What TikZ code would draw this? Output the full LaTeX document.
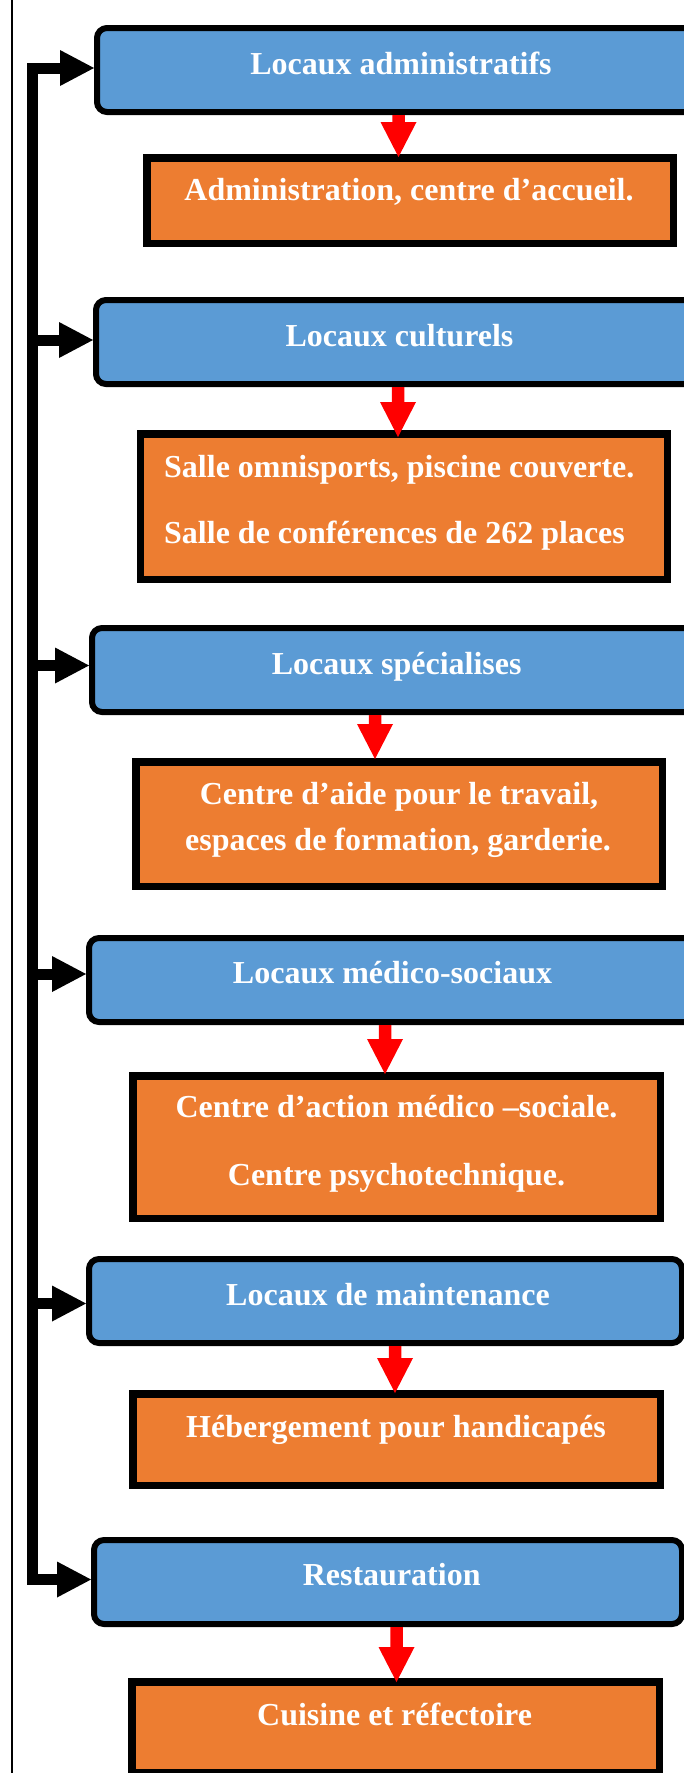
\documentclass[tikz,border=0pt]{standalone}
\usepackage{fontspec}
\setmainfont{Liberation Serif}
\usetikzlibrary{calc}
\definecolor{boxblue}{HTML}{5B9BD5}
\definecolor{boxorange}{HTML}{ED7D31}
\definecolor{arrred}{HTML}{FF0000}
\tikzset{
  bluebox/.style={draw=black, line width=6pt, fill=boxblue, rounded corners=10pt,
    inner sep=0pt, outer sep=3pt, minimum height=84pt},
  orangebox/.style={draw=black, line width=7.5pt, fill=boxorange, inner sep=0pt, outer sep=3.75pt},
  boxtext/.style={text=white, font=\bfseries\fontsize{32}{38}\selectfont, inner sep=0pt, anchor=base},
  boxtextleft/.style={boxtext, anchor=base west},
  spine/.style={draw=black, line width=11pt, line join=miter},
  framerule/.style={draw=black, line width=1.5pt},
}
\newcommand{\blackhead}[2]{%
  \fill[black] ($(#1.west |- #2)+(-34,-18)$) -- (#1.west |- #2) -- ($(#1.west |- #2)+(-34,18)$) -- cycle;}
\newcommand{\redarr}[4]{%
  \path (#3,0) coordinate (rx-#1);
  \path (#1.south -| rx-#1) coordinate (ra-#1);
  \path ($(#2.north -| rx-#1)+(0,#4)$) coordinate (tip-#1);
  \path ($(tip-#1)+(0,-35)$) coordinate (base-#1);
  \fill[arrred] ($(ra-#1)+(-6.25,0)$) -- ($(base-#1)+(-6.25,0)$) -- ($(base-#1)+(-18,0)$)
    -- (tip-#1) -- ($(base-#1)+(18,0)$) -- ($(base-#1)+(6.25,0)$) -- ($(ra-#1)+(6.25,0)$) -- cycle;}
\begin{document}
\begin{tikzpicture}[x=1pt, y=-1pt]
\useasboundingbox (0,0) rectangle (684,1773);
\clip (0,0) rectangle (684,1773);

% left page rule
\coordinate (frameTop) at (12,0);
\coordinate (frameBot) at (12,1773);
\draw[framerule] (frameTop) -- (frameBot);

% blue boxes
\node[bluebox, minimum width=608pt] (b1) at (401,70) {};
\node[bluebox, minimum width=608pt] (b2) at (400,342) {};
\node[bluebox, minimum width=609pt] (b3) at (396.5,670) {};
\node[bluebox, minimum width=608pt] (b4) at (393,980) {};
\node[bluebox, minimum width=593pt] (b5) at (385.5,1301) {};
\node[bluebox, minimum width=588pt] (b6) at (388,1582) {};

% orange boxes
\node[orangebox, minimum width=526.5pt, minimum height=85.5pt] (o1) at (410,200.5) {};
\node[orangebox, minimum width=527pt, minimum height=145.5pt] (o2) at (403.75,506.5) {};
\node[orangebox, minimum width=526.5pt, minimum height=124.5pt] (o3) at (399,824) {};
\node[orangebox, minimum width=527.5pt, minimum height=142.5pt] (o4) at (396.5,1147) {};
\node[orangebox, minimum width=527.5pt, minimum height=91.5pt] (o5) at (396.5,1439.5) {};
\node[orangebox, minimum width=527.5pt, minimum height=90.5pt] (o6) at (395.5,1727) {};

% black spine with arms
\coordinate (a1) at (32.5,68);
\coordinate (a2) at (32.5,340);
\coordinate (a3) at (32.5,665.5);
\coordinate (a4) at (32.5,974);
\coordinate (a5) at (32.5,1303.5);
\coordinate (a6) at (32.5,1579.5);
\draw[spine] ($(b1.west |- a1)+(-33,0)$) -- (a1) -- (a6) -- ($(b6.west |- a6)+(-33,0)$);
\draw[spine] (a2) -- ($(b2.west |- a2)+(-33,0)$);
\draw[spine] (a3) -- ($(b3.west |- a3)+(-33,0)$);
\draw[spine] (a4) -- ($(b4.west |- a4)+(-33,0)$);
\draw[spine] (a5) -- ($(b5.west |- a5)+(-33,0)$);
\blackhead{b1}{a1}
\blackhead{b2}{a2}
\blackhead{b3}{a3}
\blackhead{b4}{a4}
\blackhead{b5}{a5}
\blackhead{b6}{a6}

% red arrows
\redarr{b1}{o1}{398.5}{3}
\redarr{b2}{o2}{398}{7}
\redarr{b3}{o3}{375}{1}
\redarr{b4}{o4}{385}{2}
\redarr{b5}{o5}{395}{3}
\redarr{b6}{o6}{396.5}{4}

% texts
\node[boxtext] (t1) at (401,74) {Locaux administratifs};
\node[boxtext] (u1) at (409,200) {Administration, centre d’accueil.};
\node[boxtext] (t2) at (399.5,346) {Locaux culturels};
\node[boxtextleft] (u2a) at (164,477) {Salle omnisports, piscine couverte.};
\node[boxtextleft] (u2b) at (164,543.5) {Salle de conférences de 262 places};
\node[boxtext] (t3) at (396.7,674) {Locaux spécialises};
\node[boxtext] (u3a) at (399,804.5) {Centre d’aide pour le travail,};
\node[boxtext] (u3b) at (398,850) {espaces de formation, garderie.};
\node[boxtext] (t4) at (392.5,983) {Locaux médico-sociaux};
\node[boxtext] (u4a) at (396.5,1117) {Centre d’action médico –sociale.};
\node[boxtext] (u4b) at (396.5,1185) {Centre psychotechnique.};
\node[boxtext] (t5) at (388,1305) {Locaux de maintenance};
\node[boxtext] (u5) at (396,1437.5) {Hébergement pour handicapés};
\node[boxtext] (t6) at (391.7,1585.5) {Restauration};
\node[boxtext] (u6) at (394.6,1725.5) {Cuisine et réfectoire};
\end{tikzpicture}
\end{document}
